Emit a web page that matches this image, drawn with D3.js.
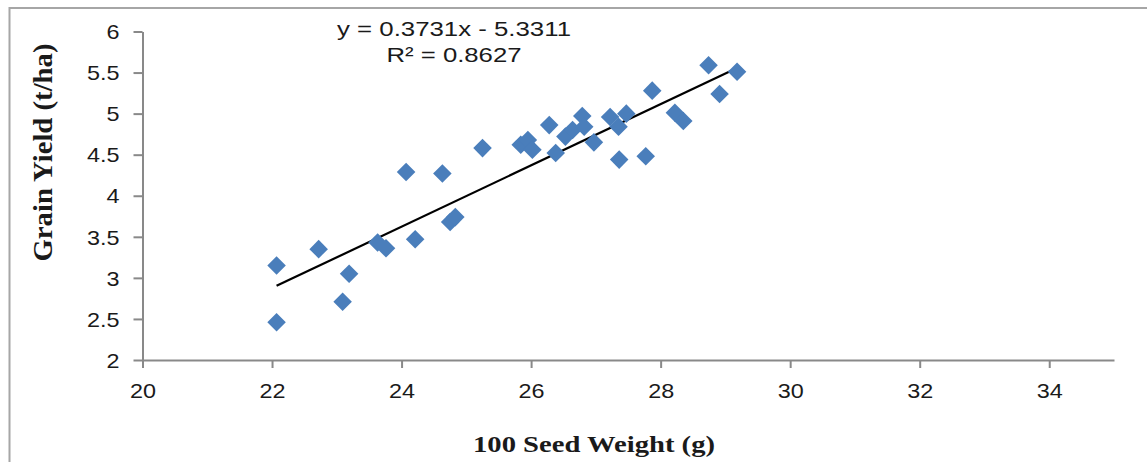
<!DOCTYPE html>
<html>
<head>
<meta charset="utf-8">
<script src="https://cdn.jsdelivr.net/npm/d3@7/dist/d3.min.js"></script>
<style>
  html, body { margin: 0; padding: 0; background: #fff; }
  svg { display: block; }
</style>
</head>
<body>
<svg id="chart" width="1147" height="462"></svg>
<script>
// 100-seed weight (g) of each entry
const seedWeight = [
  22.07, 22.07, 22.72, 23.09, 23.19, 23.63, 23.76, 24.21, 24.07, 24.63,
  24.75, 24.83, 25.25, 25.84, 25.95, 26.02, 26.28, 26.38, 26.53, 26.64,
  26.79, 26.82, 26.97, 27.22, 27.35, 27.47, 27.36, 27.77, 27.87, 28.22,
  28.35, 28.74, 28.91, 29.18
];
// Grain yield (t/ha) of the same entries
const grainYield = [
  3.15, 2.46, 3.35, 2.71, 3.05, 3.43, 3.36, 3.47, 4.29, 4.27,
  3.68, 3.74, 4.58, 4.62, 4.68, 4.56, 4.86, 4.52, 4.72, 4.80,
  4.97, 4.84, 4.65, 4.96, 4.84, 5.00, 4.44, 4.48, 5.28, 5.01,
  4.91, 5.59, 5.24, 5.51
];
const xTicks = [20, 22, 24, 26, 28, 30, 32, 34];
const yTicks = [2, 2.5, 3, 3.5, 4, 4.5, 5, 5.5, 6];

// Linear trendline fitted to the data
const trendSlope = 0.3731;
const trendIntercept = -5.3311;
const trendR2 = 0.8627;
const equationLabel = "y = " + trendSlope + "x - " + Math.abs(trendIntercept);
const r2Label = "R² = " + trendR2;

const xTitle = "100 Seed Weight (g)";
const yTitle = "Grain Yield (t/ha)";

const svg = d3.select("#chart");
const axisColor = "#898989";
const textColor = "#1a1a1a";
const markerColor = "#4a7ebb";
const stretch = 1.17;

// outer frame
svg.append("rect")
  .attr("x", 9.5).attr("y", 8)
  .attr("width", 1160).attr("height", 480)
  .attr("fill", "#fff")
  .attr("stroke", "#a6a6a6")
  .attr("stroke-width", 2);

const x = d3.scaleLinear().domain([20, 35]).range([142.5, 1114]);
const y = d3.scaleLinear().domain([2, 6]).range([360, 31.5]);

// x axis
const gx = svg.append("g")
  .attr("transform", `translate(0,${y(2)})`)
  .call(d3.axisBottom(x).tickValues(xTicks).tickSize(8).tickSizeOuter(0));
gx.select(".domain").attr("stroke", axisColor).attr("stroke-width", 2);
gx.selectAll(".tick line").attr("stroke", axisColor).attr("stroke-width", 2);
gx.selectAll(".tick text")
  .attr("y", 38).attr("dy", 0)
  .attr("transform", `scale(${stretch},1)`)
  .attr("fill", textColor)
  .style("font-family", "'Liberation Sans', Arial, sans-serif")
  .style("font-size", "20px");

// y axis
const gy = svg.append("g")
  .attr("transform", `translate(${x(20)},0)`)
  .call(d3.axisLeft(y).tickValues(yTicks).tickSize(9).tickSizeOuter(0).tickFormat(d => String(d)));
gy.select(".domain").attr("stroke", axisColor).attr("stroke-width", 2);
gy.selectAll(".tick line").attr("stroke", axisColor).attr("stroke-width", 2);
gy.selectAll(".tick text")
  .attr("x", -23 / stretch).attr("dy", "0.36em")
  .attr("transform", `scale(${stretch},1)`)
  .attr("fill", textColor)
  .style("font-family", "'Liberation Sans', Arial, sans-serif")
  .style("font-size", "20px");

// trendline over the observed range
const xExtent = d3.extent(seedWeight);
const trendPoints = xExtent.map(v => [v, trendSlope * v + trendIntercept]);
svg.append("path")
  .datum(trendPoints)
  .attr("fill", "none")
  .attr("stroke", "#000")
  .attr("stroke-width", 2.2)
  .attr("d", d3.line().x(d => x(d[0])).y(d => y(d[1])));

// diamond markers
const diamond = d3.symbol().type(d3.symbolSquare).size(172);
svg.append("g")
  .selectAll("path")
  .data(d3.zip(seedWeight, grainYield))
  .join("path")
  .attr("d", diamond)
  .attr("transform", d => `translate(${x(d[0])},${y(d[1])}) rotate(45)`)
  .attr("fill", markerColor);

// trendline equation
const eq = svg.append("g")
  .attr("fill", textColor)
  .style("font-family", "'Liberation Sans', Arial, sans-serif")
  .style("font-size", "20px")
  .attr("text-anchor", "middle");
eq.append("text")
  .attr("x", 454).attr("y", 36)
  .attr("textLength", 234).attr("lengthAdjust", "spacingAndGlyphs")
  .text(equationLabel);
eq.append("text")
  .attr("x", 454).attr("y", 62)
  .attr("textLength", 135).attr("lengthAdjust", "spacingAndGlyphs")
  .text(r2Label);

// axis titles
svg.append("text")
  .attr("x", 594).attr("y", 452)
  .attr("text-anchor", "middle")
  .attr("textLength", 242).attr("lengthAdjust", "spacingAndGlyphs")
  .attr("fill", textColor)
  .style("font-family", "'Liberation Serif', 'Times New Roman', serif")
  .style("font-weight", "bold")
  .style("font-size", "24px")
  .text(xTitle);

svg.append("text")
  .attr("transform", "translate(52,152.5) rotate(-90) scale(1,1.2)")
  .attr("text-anchor", "middle")
  .attr("textLength", 218).attr("lengthAdjust", "spacingAndGlyphs")
  .attr("fill", textColor)
  .style("font-family", "'Liberation Serif', 'Times New Roman', serif")
  .style("font-weight", "bold")
  .style("font-size", "23px")
  .text(yTitle);
</script>
</body>
</html>
